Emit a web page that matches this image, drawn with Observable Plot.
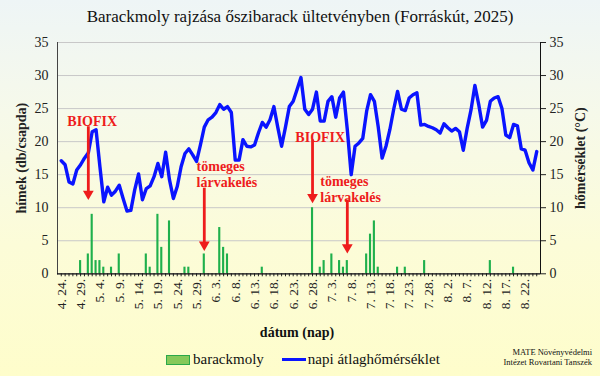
<!DOCTYPE html>
<html>
<head>
<meta charset="utf-8">
<script src="https://cdn.jsdelivr.net/npm/d3@7"></script>
<script src="https://cdn.jsdelivr.net/npm/@observablehq/plot@0.6"></script>
<style>
  body { margin: 0; }
  #wrap { width: 600px; height: 376px; position: relative; overflow: hidden;
    background: linear-gradient(to bottom, #eef5f6 0%, #f6f9ea 30%, #fcfcd8 65%, #fefdcb 100%);
    font-family: "Liberation Serif", "Times New Roman", serif; color: #111; }
  #title { position: absolute; top: 7px; left: 0; width: 600px; text-align: center; font-size: 17px; }
  #chart { position: absolute; top: 36px; left: 0; }
  #xlabel { position: absolute; top: 325px; left: 247px; width: 100px; text-align: center; font-weight: bold; font-size: 14px; }
  #legend { position: absolute; top: 351px; left: 166px; font-size: 15px; display: flex; align-items: center; }
  .sw { display: inline-block; width: 22px; height: 8px; background: #86c95a; border: 1px solid #2aa84a; margin-right: 3px; }
  .ln { display: inline-block; width: 24px; height: 3px; background: #0a14ff; margin-left: 18px; margin-right: 2px; }
  #credit { position: absolute; top: 347px; right: 8px; text-align: right; font-size: 8.5px; line-height: 10px; }
</style>
</head>
<body>
<div id="wrap">
  <div id="title">Barackmoly rajzása őszibarack ültetvényben (Forráskút, 2025)</div>
  <div id="chart"></div>
  <div id="xlabel">dátum (nap)</div>
  <div id="legend"><span class="sw"></span>barackmoly<span class="ln"></span>napi átlaghőmérséklet</div>
  <div id="credit">MATE Növényvédelmi<br>Intézet Rovartani Tanszék</div>
</div>
<script>
// Daily categories: 2025-04-24 .. 2025-08-25
const dates = d3.utcDay.range(new Date(Date.UTC(2025, 3, 24)), new Date(Date.UTC(2025, 7, 26)))
  .map(d => `${d.getUTCMonth() + 1}. ${d.getUTCDate()}.`);

const tickLabels = ["4. 24.","4. 29.","5. 4.","5. 9.","5. 14.","5. 19.","5. 24.","5. 29.","6. 3.","6. 8.",
  "6. 13.","6. 18.","6. 23.","6. 28.","7. 3.","7. 8.","7. 13.","7. 18.","7. 23.","7. 28.",
  "8. 2.","8. 7.","8. 12.","8. 17.","8. 22."];
const yTicks = [0, 5, 10, 15, 20, 25, 30, 35];

// daily mean temperature (°C), one per day
const temps = [17.1,16.5,13.9,13.6,15.7,16.5,17.5,18.3,21.5,21.8,
  16.2,10.9,13.1,11.9,12.5,13.4,11.4,9.5,9.6,12.7,
  15.1,11.2,12.9,13.3,14.7,16.7,14.7,18.4,14.2,11.4,
  13.2,16.2,18.2,18.9,18.0,17.0,19.5,22.2,23.3,23.7,
  24.4,25.6,24.9,25.3,24.4,17.2,17.2,20.3,19.3,19.2,
  19.5,21.3,22.9,22.2,23.3,25.3,22.2,19.3,22.2,25.3,
  26.1,27.9,29.7,24.9,24.1,24.9,27.5,23.1,23.1,26.1,
  26.8,23.7,26.6,27.5,21.8,15.0,19.3,19.8,20.5,24.6,
  27.1,26.1,22.2,17.5,19.3,21.8,24.9,27.6,24.9,24.7,
  26.6,27.1,27.4,22.5,22.6,22.3,22.1,21.8,21.3,22.7,
  22.1,21.6,22.0,21.5,18.7,22.0,24.8,28.5,25.6,22.2,
  23.2,26.1,26.6,26.8,25.0,21.0,20.6,22.6,22.4,18.9,
  18.7,16.8,15.7,18.5];

// moth catches (db/csapda)
const mothDates = ["4. 29.","5. 1.","5. 2.","5. 3.","5. 4.","5. 5.","5. 7.","5. 9.","5. 16.","5. 17.",
  "5. 19.","5. 20.","5. 22.","5. 26.","5. 27.","5. 31.","6. 4.","6. 5.","6. 6.","6. 15.",
  "6. 28.","6. 30.","7. 1.","7. 3.","7. 5.","7. 6.","7. 7.","7. 12.","7. 13.","7. 14.",
  "7. 15.","7. 20.","7. 22.","7. 27.","8. 13.","8. 19."];
const mothCounts = [2,3,9,2,2,1,1,3,3,1,
  9,4,8,1,1,3,7,4,3,1,
  10,1,2,3,2,1,2,3,6,8,
  1,1,1,2,2,1];

// annotations
const noteTexts = ["BIOFIX", "tömeges\nlárvakelés", "BIOFIX", "tömeges\nlárvakelés"];
const noteDates = ["5. 2.", "5. 29.", "6. 30.", "6. 30."];
const noteY = [23, 15.1, 20.6, 12.8];
const noteAnchor = ["middle", "start", "middle", "start"];
const arrowDates = ["5. 1.", "5. 31.", "6. 28.", "7. 7."];
const arrowFrom = [21.5, 12.2, 19.5, 10.4];
const arrowTo = [11.2, 3.5, 10.7, 3.1];

const tempData = dates.map((d, i) => ({date: d, temp: temps[i]}));
const mothData = mothDates.map((d, i) => ({date: d, count: mothCounts[i]}));
const notes = noteTexts.map((t, i) => ({text: t, date: noteDates[i], y: noteY[i], anchor: noteAnchor[i]}));
const arrows = arrowDates.map((d, i) => ({date: d, y1: arrowFrom[i], y2: arrowTo[i]}));
const red = "#ee1c1c";

const plot = Plot.plot({
  width: 600,
  height: 286,
  marginLeft: 57,
  marginRight: 60,
  marginTop: 6,
  marginBottom: 48.7,
  style: {background: "transparent", fontFamily: "'Liberation Serif', serif", fontSize: "13px", color: "#222", overflow: "visible"},
  x: {type: "band", domain: dates, paddingInner: 0.45, paddingOuter: 0.7},
  y: {domain: [0, 35]},
  marks: [
    Plot.gridY(yTicks, {stroke: "#c8c8c8", strokeOpacity: 1}),
    Plot.barY(mothData, {x: "date", y: "count", fill: "#1fb04c"}),
    Plot.line(tempData, {x: "date", y: "temp", stroke: "#0a14ff", strokeWidth: 3.4, strokeLinejoin: "round"}),
    Plot.ruleX(arrows, {x: "date", y1: "y1", y2: "y2", stroke: red, strokeWidth: 2.8, dy: -5}),
    Plot.dot(arrows, {x: "date", y: "y2", symbol: "triangle", rotate: 180, r: 4, fill: red, stroke: "none", dy: -6}),
    Plot.text(notes.filter(n => n.anchor === "middle"), {x: "date", y: "y", text: "text", fill: red, fontWeight: "bold", fontSize: 14, textAnchor: "middle"}),
    Plot.text(notes.filter(n => n.anchor === "start"), {x: "date", y: "y", text: "text", fill: red, fontWeight: "bold", fontSize: 14, textAnchor: "start", dx: 0, lineHeight: 1.15}),
    Plot.axisY({anchor: "left", ticks: yTicks, tickSize: 0, tickPadding: 9, label: null, fontSize: 14}),
    Plot.axisY({anchor: "right", ticks: yTicks, tickSize: 5, tickPadding: 4, label: null, fontSize: 14}),
    Plot.frame({anchor: "left", stroke: "#444"}),
    Plot.frame({anchor: "right", stroke: "#111"}),
    Plot.axisX({ticks: dates, tickSize: 3, tickFormat: () => "", label: null}),
    Plot.axisX({ticks: tickLabels, tickSize: 0, tickRotate: -90, tickPadding: 5, label: null, fontSize: 13.5}),
    Plot.ruleY([0], {stroke: "#111", strokeWidth: 1.3}),
    Plot.text(["hímek (db/csapda)"], {frameAnchor: "left", dx: -36, rotate: -90, textAnchor: "middle", fontWeight: "bold", fontSize: 14}),
    Plot.text(["hőmérséklet (°C)"], {frameAnchor: "right", dx: 40, rotate: -90, textAnchor: "middle", fontWeight: "bold", fontSize: 14})
  ]
});
document.getElementById("chart").append(plot);
</script>
</body>
</html>
